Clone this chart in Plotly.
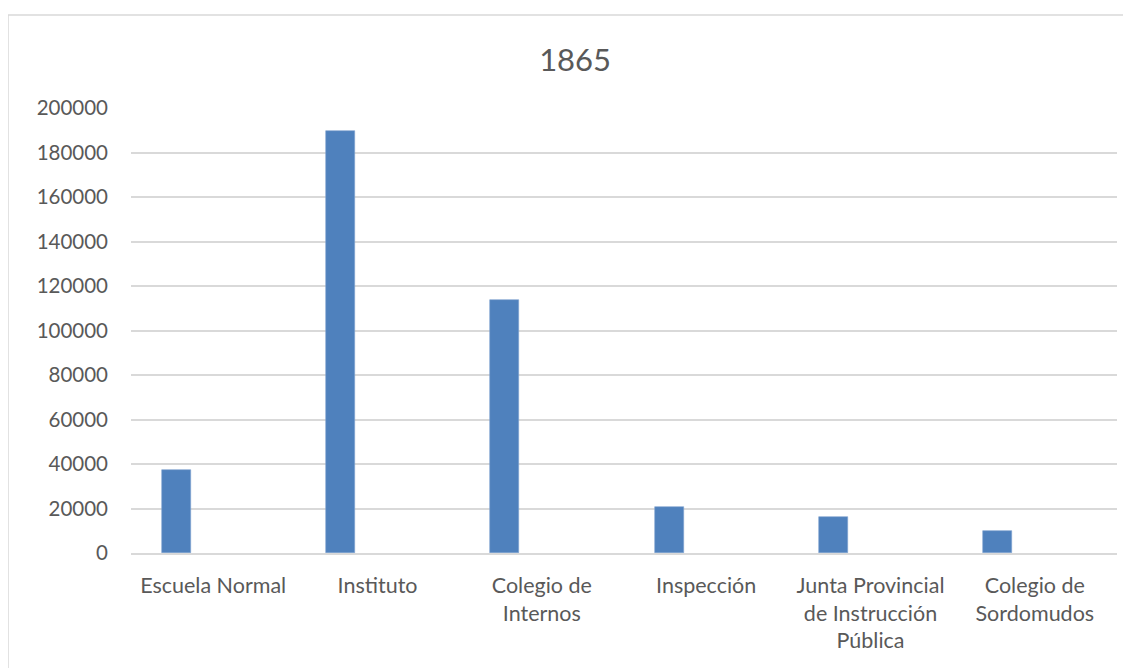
"""Bar chart of 1865 education spending per institution, Excel look."""

import plotly.graph_objs as go

categories = ['Escuela Normal', 'Instituto', 'Colegio de Internos', 'Inspección',
              'Junta Provincial de Instrucción Pública', 'Colegio de Sordomudos']
tick_labels = ['Escuela Normal', 'Instituto', 'Colegio de<br>Internos', 'Inspección',
               'Junta Provincial<br>de Instrucción<br>Pública', 'Colegio de<br>Sordomudos']
values = [37300, 189700, 113700, 20800, 16000, 9900]
y_ticks = [0, 20000, 40000, 60000, 80000, 100000, 120000, 140000, 160000, 180000, 200000]

FONT = 'Lato'
GREY = '#595959'
GRID = '#d9d9d9'

# page is shown with an 8px body margin, so the figure is 8px smaller
W, H = 1123, 660
L, T, R, B = 123, 100, 14, 115
plot_w = W - L - R
plot_h = H - T - B

bars = go.Bar(
    x=categories,
    y=values,
    offset=-0.313,
    width=0.177,
    marker=dict(color='#4f81bd', line=dict(color='#7fa3d0', width=0.6)),
    showlegend=False,
)

layout = go.Layout(dict(
    width=W,
    height=H,
    paper_bgcolor='white',
    plot_bgcolor='white',
    margin=dict(l=L, r=R, t=T, b=B),
    font=dict(family=FONT, color=GREY),
    title=dict(
        text='1865',
        font=dict(family=FONT, size=31, color=GREY),
        x=0.505, xref='container', xanchor='center',
        y=1 - 52 / H, yref='container', yanchor='middle',
    ),
    xaxis=dict(
        type='category',
        range=[-0.5, 5.5],
        tickvals=categories,
        ticktext=tick_labels,
        tickfont=dict(family=FONT, size=21.5, color=GREY),
        showgrid=False,
        showline=True,
        linecolor=GRID,
        linewidth=1.5,
        ticks='',
        ticklabelstandoff=12,
    ),
    yaxis=dict(
        range=[0, 200000],
        tickvals=y_ticks,
        ticktext=[str(v) for v in y_ticks],
        tickfont=dict(family=FONT, size=20.5, color=GREY),
        showgrid=True,
        gridcolor=GRID,
        gridwidth=1.5,
        zeroline=False,
        showline=False,
        ticks='',
        ticklabelstandoff=22,
    ),
    shapes=[dict(
        type='rect', xref='paper', yref='paper',
        x0=-L / plot_w, x1=(W + 10 - L) / plot_w,
        y0=-0.5, y1=(plot_h + T - 7) / plot_h,
        line=dict(color=GRID, width=1.5),
        fillcolor='rgba(0,0,0,0)',
        layer='below',
    )],
    bargap=0,
))

fig = go.Figure(data=[bars], layout=layout)
fig.write_html('out.html')
